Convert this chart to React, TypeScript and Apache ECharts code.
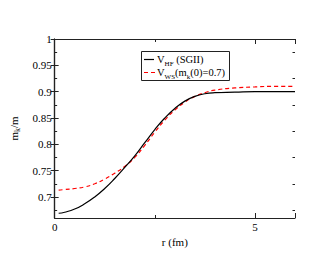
import React, { useEffect, useRef } from "react";
import * as echarts from "echarts";

const rValues = [0.1, 0.25, 0.5, 0.75, 1.0, 1.25, 1.5, 1.75, 2.0, 2.25, 2.5, 2.75, 3.0, 3.25, 3.5, 3.75, 4.0, 4.5, 5.0, 5.5, 6.0];
const hfValues = [0.669, 0.671, 0.677, 0.687, 0.700, 0.716, 0.735, 0.756, 0.778, 0.803, 0.828, 0.850, 0.868, 0.882, 0.891, 0.896, 0.898, 0.899, 0.9, 0.9, 0.9];
const wsValues = [0.713, 0.714, 0.716, 0.719, 0.725, 0.734, 0.745, 0.758, 0.775, 0.798, 0.823, 0.846, 0.865, 0.880, 0.891, 0.898, 0.903, 0.907, 0.909, 0.910, 0.910];
const xTickLabels = ["0", "5"];
const yMajorTicks = [0.7, 0.75, 0.8, 0.85, 0.9, 0.95, 1];
const yMinorTicks = [0.675, 0.725, 0.775, 0.825, 0.875, 0.925, 0.975];
const seriesNames = ["V_HF (SGII)", "V_WS(m_k(0)=0.7)"];

const FONT = "Liberation Serif, Times New Roman, serif";

export default function App() {
  const ref = useRef<HTMLDivElement>(null);
  useEffect(() => {
    if (!ref.current) return;
    const chart = echarts.init(ref.current, undefined, { renderer: "svg" });
    const axisLine = { show: true, lineStyle: { color: "#222", width: 1.2 } };
    const tickStyle = { color: "#222", width: 1 };
    const grid = { left: 39, top: 39, right: 37, bottom: 39 };
    const txt = { fontFamily: FONT, fontSize: 11, color: "#000", fontWeight: "normal" as const };
    const yBase = { type: "value", min: 0.66, max: 1, splitLine: { show: false } };
    chart.setOption({
      animation: false,
      backgroundColor: "#fff",
      grid,
      xAxis: [
        {
          type: "value", min: 0, max: 6, interval: 5, position: "bottom",
          name: "r (fm)", nameLocation: "middle", nameGap: 17,
          nameTextStyle: txt,
          axisLine,
          axisTick: { show: true, inside: true, length: 5, lineStyle: tickStyle },
          minorTick: { show: true, splitNumber: 2, length: 3, lineStyle: tickStyle },
          axisLabel: {
            ...txt, margin: 3,
            formatter: (v: number) => (xTickLabels.includes(String(v)) ? String(v) : ""),
          },
          splitLine: { show: false },
        },
        {
          type: "value", min: 0, max: 6, interval: 5, position: "top",
          axisLine,
          axisTick: { show: true, inside: true, length: 5, lineStyle: tickStyle },
          minorTick: { show: true, splitNumber: 2, length: 3, lineStyle: tickStyle },
          axisLabel: { show: false },
          splitLine: { show: false },
        },
      ],
      yAxis: [
        {
          ...yBase, position: "left",
          name: "{a|m}{s|k}{a|/m}", nameLocation: "middle", nameGap: 30, nameRotate: 90,
          nameTextStyle: {
            ...txt,
            rich: {
              a: { ...txt, lineHeight: 16, verticalAlign: "middle" },
              s: { ...txt, fontSize: 8, lineHeight: 16, verticalAlign: "bottom" },
            },
          },
          axisLine,
          axisTick: { show: true, inside: true, length: 4, lineStyle: tickStyle, customValues: yMajorTicks },
          axisLabel: {
            ...txt, margin: 3, customValues: yMajorTicks,
            formatter: (v: number) => String(Math.round(v * 100) / 100),
          },
        },
        {
          ...yBase, position: "right",
          axisLine,
          axisTick: { show: true, inside: true, length: 4, lineStyle: tickStyle, customValues: yMajorTicks },
          axisLabel: { show: false },
        },
        {
          ...yBase, position: "left",
          axisLine: { show: false },
          axisTick: { show: true, inside: true, length: 2.5, lineStyle: tickStyle, customValues: yMinorTicks },
          axisLabel: { show: false },
        },
        {
          ...yBase, position: "right",
          axisLine: { show: false },
          axisTick: { show: true, inside: true, length: 2.5, lineStyle: tickStyle, customValues: yMinorTicks },
          axisLabel: { show: false },
        },
      ],
      series: [
        {
          name: seriesNames[0], type: "line", smooth: 0.5, showSymbol: false,
          xAxisIndex: 0, yAxisIndex: 0,
          data: rValues.map((r, i) => [r, hfValues[i]]),
          lineStyle: { color: "#000", width: 1.2 },
          z: 3,
        },
        {
          name: seriesNames[1], type: "line", smooth: 0.5, showSymbol: false,
          xAxisIndex: 0, yAxisIndex: 0,
          data: rValues.map((r, i) => [r, wsValues[i]]),
          lineStyle: { color: "#ff0000", width: 1.2, type: [4, 3] },
          z: 2,
        },
      ],
      graphic: [
        { type: "rect", shape: { x: 141.5, y: 51.5, width: 88, height: 29 }, style: { fill: "#fff", stroke: "#222", lineWidth: 1 }, z: 10 },
        { type: "line", shape: { x1: 144, y1: 59.5, x2: 154, y2: 59.5 }, style: { stroke: "#000", lineWidth: 1.2 }, z: 11 },
        { type: "line", shape: { x1: 144, y1: 72.5, x2: 155, y2: 72.5 }, style: { stroke: "#ff0000", lineWidth: 1.2, lineDash: [4, 3] }, z: 11 },
        {
          type: "text", x: 157, y: 59.5, z: 11,
          style: {
            text: "{a|V}{s|HF}{a| (SGII)}",
            verticalAlign: "middle",
            rich: {
              a: { fontFamily: FONT, fontSize: 10.5, fill: "#000", lineHeight: 15, verticalAlign: "middle" },
              s: { fontFamily: FONT, fontSize: 7, fill: "#000", lineHeight: 15, verticalAlign: "bottom" },
            },
          },
        },
        {
          type: "text", x: 157, y: 72.5, z: 11,
          style: {
            text: "{a|V}{s|WS}{a|(m}{s|k}{a|(0)=0.7)}",
            verticalAlign: "middle",
            rich: {
              a: { fontFamily: FONT, fontSize: 10.5, fill: "#000", lineHeight: 15, verticalAlign: "middle" },
              s: { fontFamily: FONT, fontSize: 7, fill: "#000", lineHeight: 15, verticalAlign: "bottom" },
            },
          },
        },
      ],
    });
    return () => chart.dispose();
  }, []);
  return <div ref={ref} style={{ width: 332, height: 257, position: "absolute", left: 0, top: 0 }} />;
}
